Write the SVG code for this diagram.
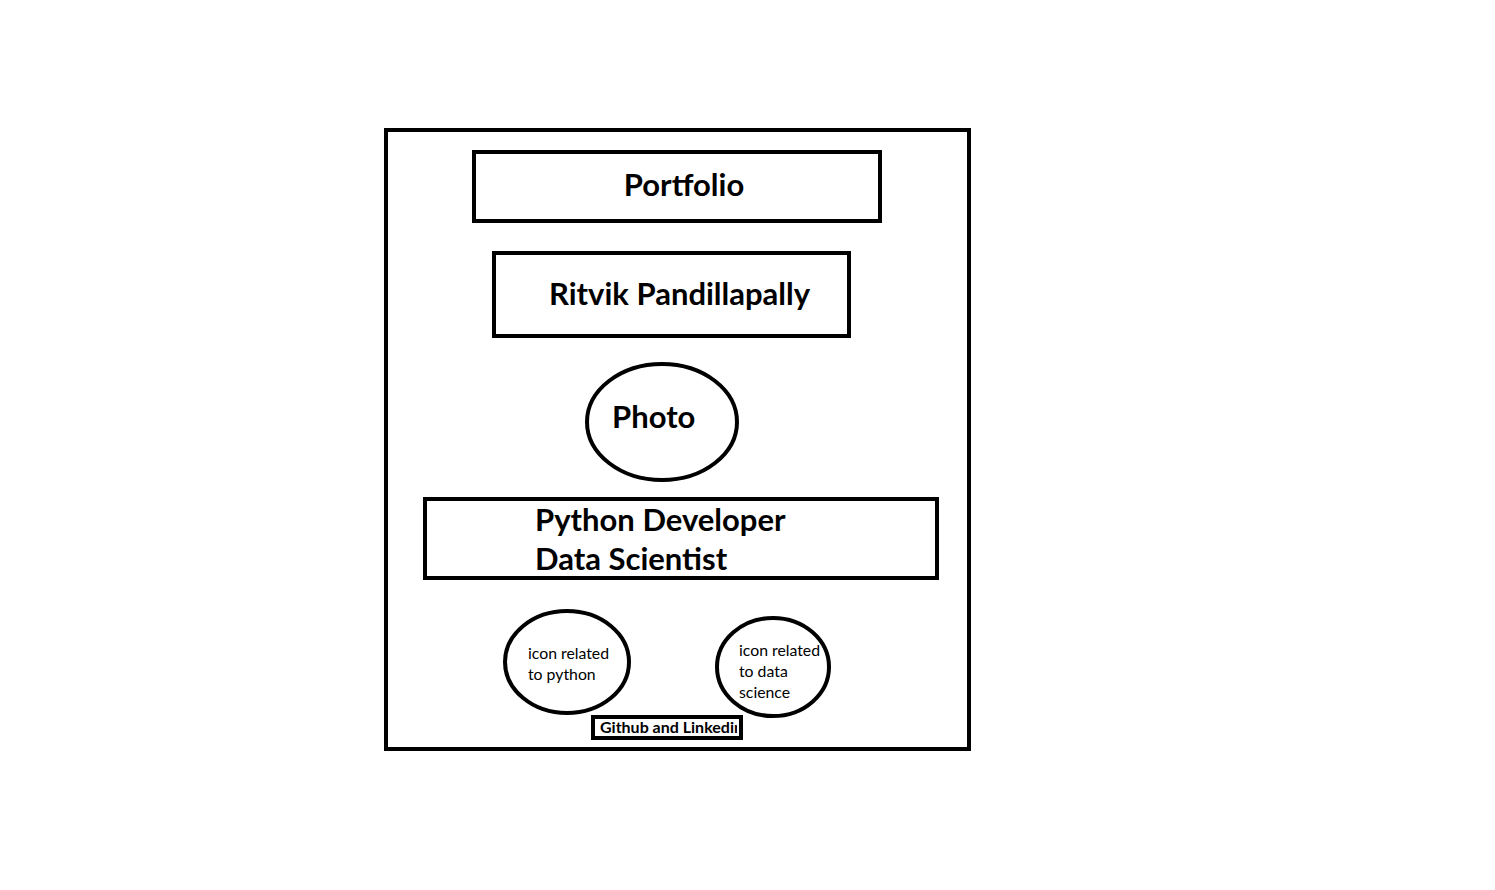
<svg xmlns="http://www.w3.org/2000/svg" width="1495" height="890" viewBox="0 0 1495 890">
<style>
.box{fill:#fff;stroke:#000;stroke-width:4}
.big{font-family:Lato,"Open Sans","Liberation Sans",sans-serif;font-weight:bold;font-size:31px;fill:#000}
.small{font-family:Lato,"Open Sans","Liberation Sans",sans-serif;font-size:15.8px;fill:#000}
.tiny{font-family:Lato,"Open Sans","Liberation Sans",sans-serif;font-weight:bold;font-size:16px;fill:#000}
</style>
<defs>
<clipPath id="gh"><rect x="595" y="719" width="142" height="17"/></clipPath>
</defs>
<rect width="1495" height="890" fill="#fff"/>
<g id="frame"><rect class="box" x="386" y="130" width="583" height="619"/></g>
<g id="portfolio"><rect class="box" x="474" y="152" width="406" height="69"/><text class="big" x="684" y="196" text-anchor="middle">Portfolio</text></g>
<g id="name"><rect class="box" x="494" y="253" width="355" height="83"/><text class="big" x="549" y="305">Ritvik Pandillapally</text></g>
<g id="photo"><ellipse class="box" cx="662" cy="422" rx="75" ry="58"/><text class="big" x="612" y="428">Photo</text></g>
<g id="roles"><rect class="box" x="425" y="499" width="512" height="79"/><text class="big" x="535" y="531">Python Developer</text><text class="big" x="535" y="570">Data Scientist</text></g>
<g id="python-icon"><ellipse class="box" cx="567" cy="662" rx="62" ry="51"/><text class="small" x="528" y="659">icon related</text><text class="small" x="528" y="680">to python</text></g>
<g id="ds-icon"><ellipse class="box" cx="773" cy="667" rx="56" ry="49"/><text class="small" x="739" y="656">icon related</text><text class="small" x="739" y="677">to data</text><text class="small" x="739" y="698">science</text></g>
<g id="links"><rect class="box" x="593" y="717" width="148" height="21" stroke-width="3"/><text class="tiny" x="600" y="733" clip-path="url(#gh)">Github and Linkedin</text></g>
<g id="connectors"></g>
</svg>
